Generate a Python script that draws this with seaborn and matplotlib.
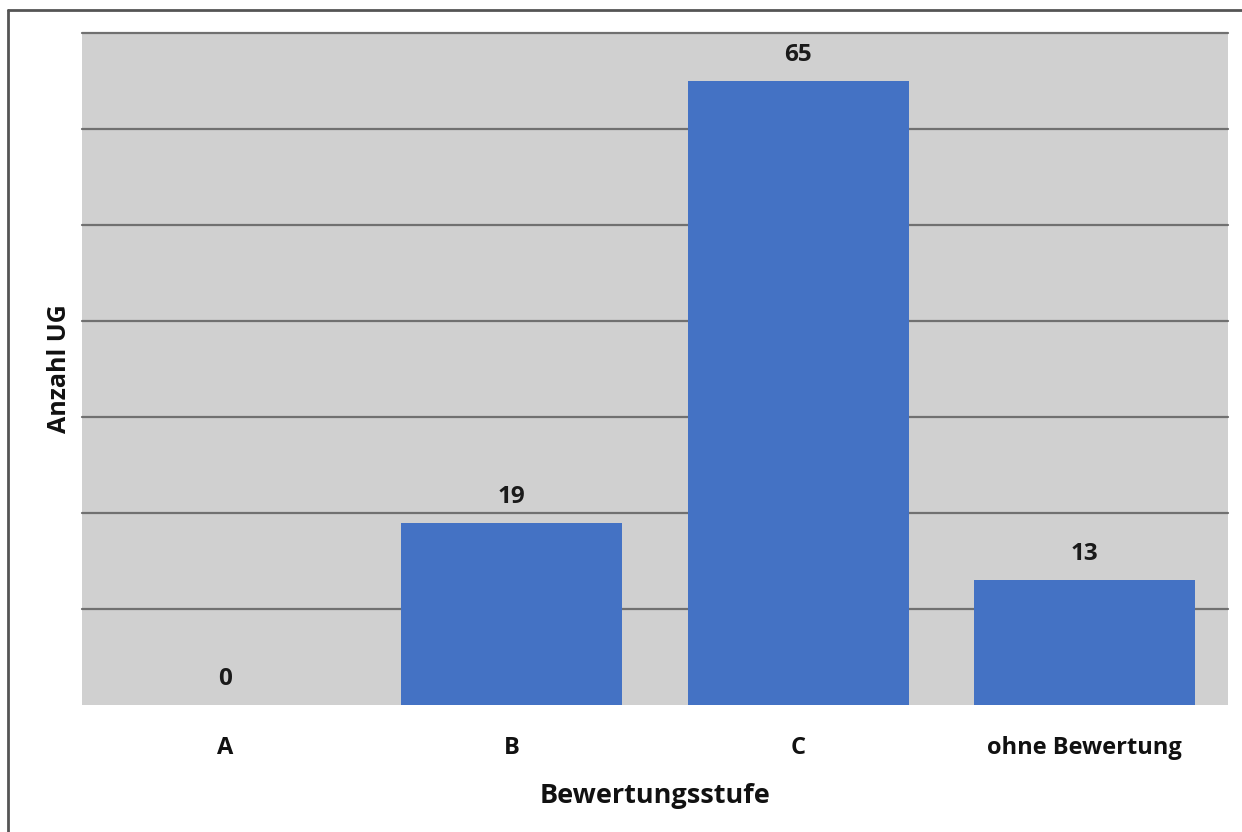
import matplotlib
matplotlib.use("Agg")
import matplotlib.pyplot as plt
from matplotlib.lines import Line2D
import seaborn as sns
import pandas as pd

# Daten
stufen = ["A", "B", "C", "ohne Bewertung"]
anzahl = [0, 19, 65, 13]
y_ticks = list(range(0, 71, 10))

df = pd.DataFrame({"Bewertungsstufe": stufen, "Anzahl UG": anzahl})

sns.set_theme(style="white")
plt.rcParams["font.family"] = ["Open Sans", "DejaVu Sans"]

fig = plt.figure(figsize=(12.42, 8.32), dpi=100)
ax = fig.add_axes([0.066, 0.1526, 0.9227, 0.8077])
ax.set_facecolor("#d0d0d0")

sns.barplot(data=df, x="Bewertungsstufe", y="Anzahl UG", color="#4472c4",
            width=0.77, saturation=1, edgecolor="none", linewidth=0, ax=ax, zorder=3)

ax.set_ylim(0, 70)
ax.set_xlim(-0.5, len(stufen) - 0.5)
ax.set_yticks(y_ticks)
ax.set_yticklabels([])
ax.yaxis.grid(True, color="#707070", linewidth=1.6, zorder=1)
ax.set_axisbelow(True)
gl = ax.yaxis.get_gridlines()
gl[0].set_visible(False)
for g in gl:
    g.set_clip_on(False)
ax.tick_params(axis="both", length=0)
ax.tick_params(axis="x", labelsize=17, pad=22, labelcolor="#111111")
for lbl in ax.get_xticklabels():
    lbl.set_fontweight("bold")
for s in ax.spines.values():
    s.set_visible(False)

for i, v in enumerate(anzahl):
    ax.annotate(str(v), (i, v), xytext=(0, 10), textcoords="offset points",
                ha="center", va="bottom", fontsize=17.5, fontweight="bold", color="#1a1a1a")

ax.set_xlabel("Bewertungsstufe", fontsize=19.5, fontweight="bold", labelpad=17, color="#111111")
ax.set_ylabel("Anzahl UG", fontsize=18, fontweight="bold", labelpad=4, color="#111111")

# Rahmen
fig.add_artist(Line2D([0.0064, 0.0064], [0.0, 0.988], transform=fig.transFigure,
                      color="#555555", linewidth=2))
fig.add_artist(Line2D([0.0064, 1.0], [0.988, 0.988], transform=fig.transFigure,
                      color="#555555", linewidth=2))

fig.savefig("out.png", dpi=100, facecolor="white")
